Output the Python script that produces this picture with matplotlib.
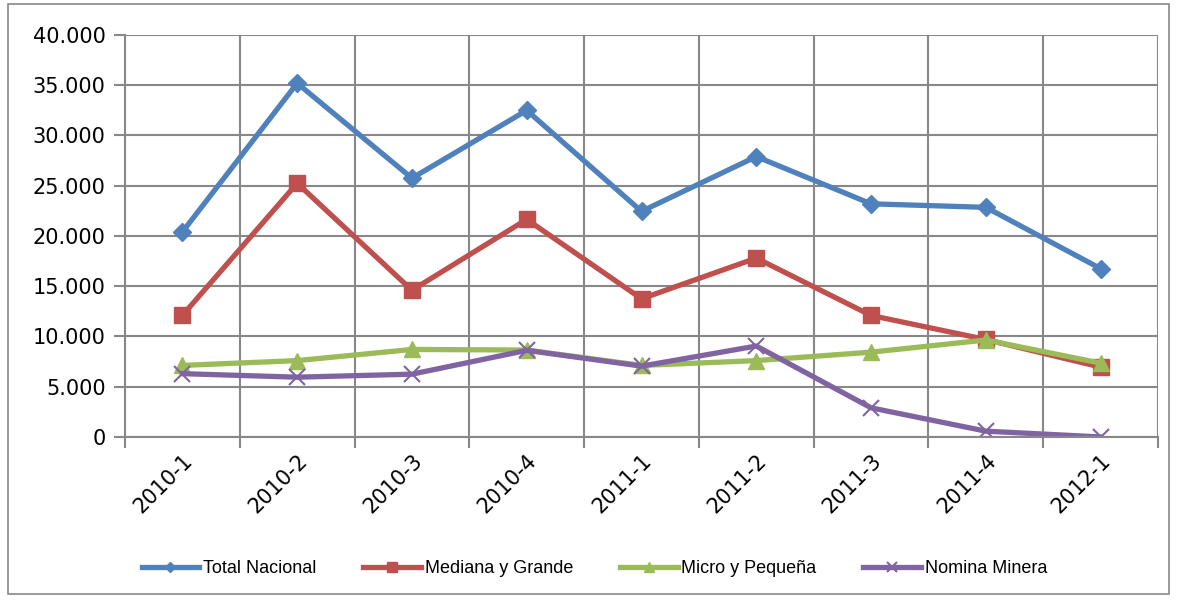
""" Recreate the quarterly line chart. """
import matplotlib
matplotlib.use("Agg")
import matplotlib.pyplot as plt
from matplotlib.patches import Rectangle
from matplotlib.ticker import FuncFormatter, MultipleLocator
import numpy as np

periods = ['2010-1', '2010-2', '2010-3', '2010-4', '2011-1',
           '2011-2', '2011-3', '2011-4', '2012-1']
total_nacional = [20400, 35200, 25750, 32500, 22450, 27900, 23200, 22850, 16750]
mediana_grande = [12100, 25250, 14600, 21650, 13750, 17800, 12090, 9700, 6950]
micro_pequena = [7120, 7600, 8710, 8650, 7120, 7600, 8440, 9650, 7350]
nomina_minera = [6300, 5950, 6250, 8620, 7050, 9050, 2900, 580, 0]

series = [
    ('Total Nacional', total_nacional, '#4F81BD', 'D', 9),
    ('Mediana y Grande', mediana_grande, '#C0504D', 's', 11),
    ('Micro y Pequeña', micro_pequena, '#9BBB59', '^', 11),
    ('Nomina Minera', nomina_minera, '#8064A2', 'x', 11),
]

fig = plt.figure(figsize=(11.77, 6), dpi=100)
fig.patches.append(Rectangle((8 / 1177, 6 / 600), 1161 / 1177, 590 / 600,
                             transform=fig.transFigure, fill=False,
                             edgecolor='#898989', linewidth=1.2))
ax = fig.add_axes([0.1062, 0.2717, 0.8777, 0.67])

x = np.arange(len(periods))
for name, values, color, marker, size in series:
    mew = 1.5 if marker == 'x' else 1
    ax.plot(x, values, color=color, linewidth=3.8, marker=marker,
            markersize=size, markeredgewidth=mew, label=name,
            solid_joinstyle='round')

ax.set_xlim(-0.5, len(periods) - 0.5)
ax.set_ylim(0, 40000)
ax.yaxis.set_major_locator(MultipleLocator(5000))
ax.yaxis.set_major_formatter(
    FuncFormatter(lambda v, _: f"{int(v):,}".replace(',', '.')))

ax.set_xticks(x)
ax.set_xticklabels(periods, rotation=45, ha='right', rotation_mode='anchor',
                   fontsize=15, fontfamily='DejaVu Sans')
ax.set_xticks(np.arange(-0.5, len(periods)), minor=True)
ax.tick_params(axis='x', which='major', length=0, pad=10)
ax.tick_params(axis='x', which='minor', length=8, color='#888888', width=1.5)
ax.tick_params(axis='y', length=8, color='#888888', width=1.5, labelsize=15,
               pad=6)

ax.grid(True, axis='y', color='#888888', linewidth=1.5)
ax.grid(True, axis='x', which='minor', color='#888888', linewidth=1.5)
ax.set_axisbelow(True)
for side in ('top', 'right'):
    ax.spines[side].set_visible(False)
for side in ('left', 'bottom'):
    ax.spines[side].set_color('#888888')
    ax.spines[side].set_linewidth(1.5)

fig.legend(loc='center', bbox_to_anchor=(0.505, 0.052), ncol=4, frameon=False,
           prop={'family': ['Liberation Sans Narrow', 'Liberation Sans'],
                 'size': 13},
           handlelength=3.2, handletextpad=0.2, columnspacing=2.6,
           markerscale=0.6)

fig.savefig('out.png', dpi=100)
